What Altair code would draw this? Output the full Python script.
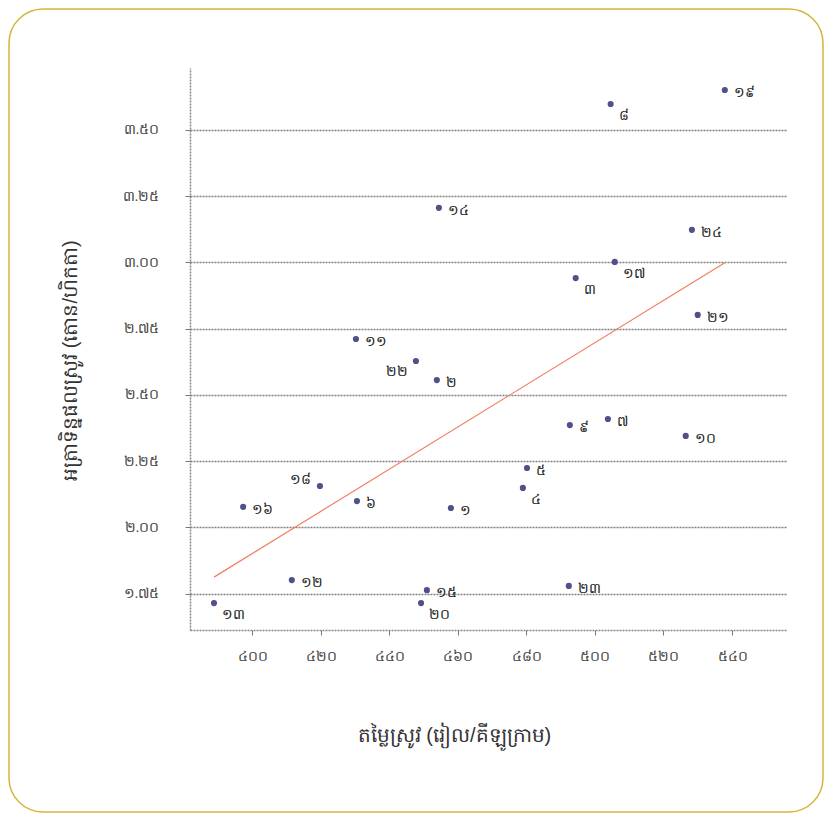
import altair as alt
import pandas as pd

# ---- data ----
point_labels = ["១៣", "១៦", "១២", "១៨", "៦", "១១", "២២", "២", "១៤", "១៥", "២០", "១",
                "៥", "៤", "៩", "៧", "១០", "២៣", "៣", "១៧", "២៤", "២១", "៨", "១៩"]
rice_price = [388.9, 397.4, 411.6, 419.8, 430.6, 430.3, 447.8, 453.9, 454.5, 451.0, 449.3, 458.0,
              480.2, 479.0, 492.7, 503.8, 526.5, 492.4, 494.4, 505.8, 528.3, 530.0, 504.6, 537.9]
rice_yield = [1.714, 2.077, 1.801, 2.156, 2.099, 2.711, 2.628, 2.556, 3.206, 1.763, 1.714, 2.073,
              2.224, 2.149, 2.386, 2.409, 2.345, 1.779, 2.941, 3.002, 3.123, 2.802, 3.598, 3.651]
label_side = ["br", "r", "r", "tl", "r", "r", "bl", "r", "r", "r", "br", "r",
              "r", "br", "r", "r", "r", "r", "br", "br", "r", "r", "br", "r"]

x_ticks = [400, 420, 440, 460, 480, 500, 520, 540]
y_ticks = [1.75, 2.00, 2.25, 2.50, 2.75, 3.00, 3.25, 3.50]

x_title = "តម្លៃស្រូវ (រៀល/គីឡូក្រាម)"
y_title = "អត្រាទិន្នផលស្រូវ (តោន/ហិកតា)"

df = pd.DataFrame({"label": point_labels, "price": rice_price,
                   "yield": rice_yield, "side": label_side})

KH = "០១២៣៤៥៦៧៨៩"
kh_expr = "datum.label"
for d in range(10):
    kh_expr = f"replace({kh_expr}, regexp('{d}', 'g'), '{KH[d]}')"

W, H = 596, 562
FONT = "sans-serif"

x_enc = alt.X("price:Q",
              scale=alt.Scale(domain=[381.9, 555.75], nice=False, zero=False),
              axis=alt.Axis(values=x_ticks, title=x_title, grid=False, labelExpr=kh_expr,
                            tickSize=5, labelPadding=14,
                            titleX=264, titleY=105, titleAlign="center",
                            titleBaseline="middle"))
y_enc = alt.Y("yield:Q",
              scale=alt.Scale(domain=[1.6125, 3.734], nice=False, zero=False),
              axis=alt.Axis(values=y_ticks, format=".2f", title=y_title, grid=True,
                            labelExpr=kh_expr, tickSize=5, labelPadding=26,
                            titleX=-120, titleY=292, titleAngle=270, titleAlign="center",
                            titleBaseline="middle"))

base = alt.Chart(df)

points = base.mark_circle(size=38, color="#50508a", opacity=1).encode(x=x_enc, y=y_enc)

trend = base.transform_regression("price", "yield").mark_line(
    color="#f08060", strokeWidth=1.2).encode(x="price:Q", y="yield:Q")

txt_style = dict(fontSize=14, color="#222222", font=FONT)
lab_r = base.transform_filter("datum.side == 'r'").mark_text(
    align="left", baseline="middle", dx=9, dy=3, **txt_style).encode(
    x="price:Q", y="yield:Q", text="label:N")
lab_br = base.transform_filter("datum.side == 'br'").mark_text(
    align="left", baseline="middle", dx=8, dy=12, **txt_style).encode(
    x="price:Q", y="yield:Q", text="label:N")
lab_tl = base.transform_filter("datum.side == 'tl'").mark_text(
    align="right", baseline="middle", dx=-9, dy=-6, **txt_style).encode(
    x="price:Q", y="yield:Q", text="label:N")
lab_bl = base.transform_filter("datum.side == 'bl'").mark_text(
    align="right", baseline="middle", dx=-8, dy=11, **txt_style).encode(
    x="price:Q", y="yield:Q", text="label:N")

frame = alt.Chart(pd.DataFrame({"f": [0]})).mark_rect(
    fill=None, stroke="#d6b43c", strokeWidth=1.5, cornerRadius=34).encode(
    x=alt.value(-181), x2=alt.value(W + 37), y=alt.value(-59), y2=alt.value(H + 182))

chart = alt.layer(frame, trend, points, lab_r, lab_br, lab_tl, lab_bl).properties(
    width=W, height=H,
    autosize=alt.AutoSizeParams(type="none"),
    padding={"left": 182, "top": 60, "right": 38, "bottom": 183},
    background="white",
).configure_view(stroke=None).configure_axis(
    labelFont=FONT, titleFont=FONT, labelFontSize=14, titleFontSize=20,
    labelColor="#444444", titleColor="#333333", titleFontWeight="normal",
    domainColor="#888888", domainWidth=1.5, domainDash=[2, 1],
    tickColor="#777777", tickWidth=1,
    gridColor="#808080", gridWidth=1.5, gridDash=[2, 1],
)

chart.save("out.html", embed_options={"renderer": "svg", "actions": False})
